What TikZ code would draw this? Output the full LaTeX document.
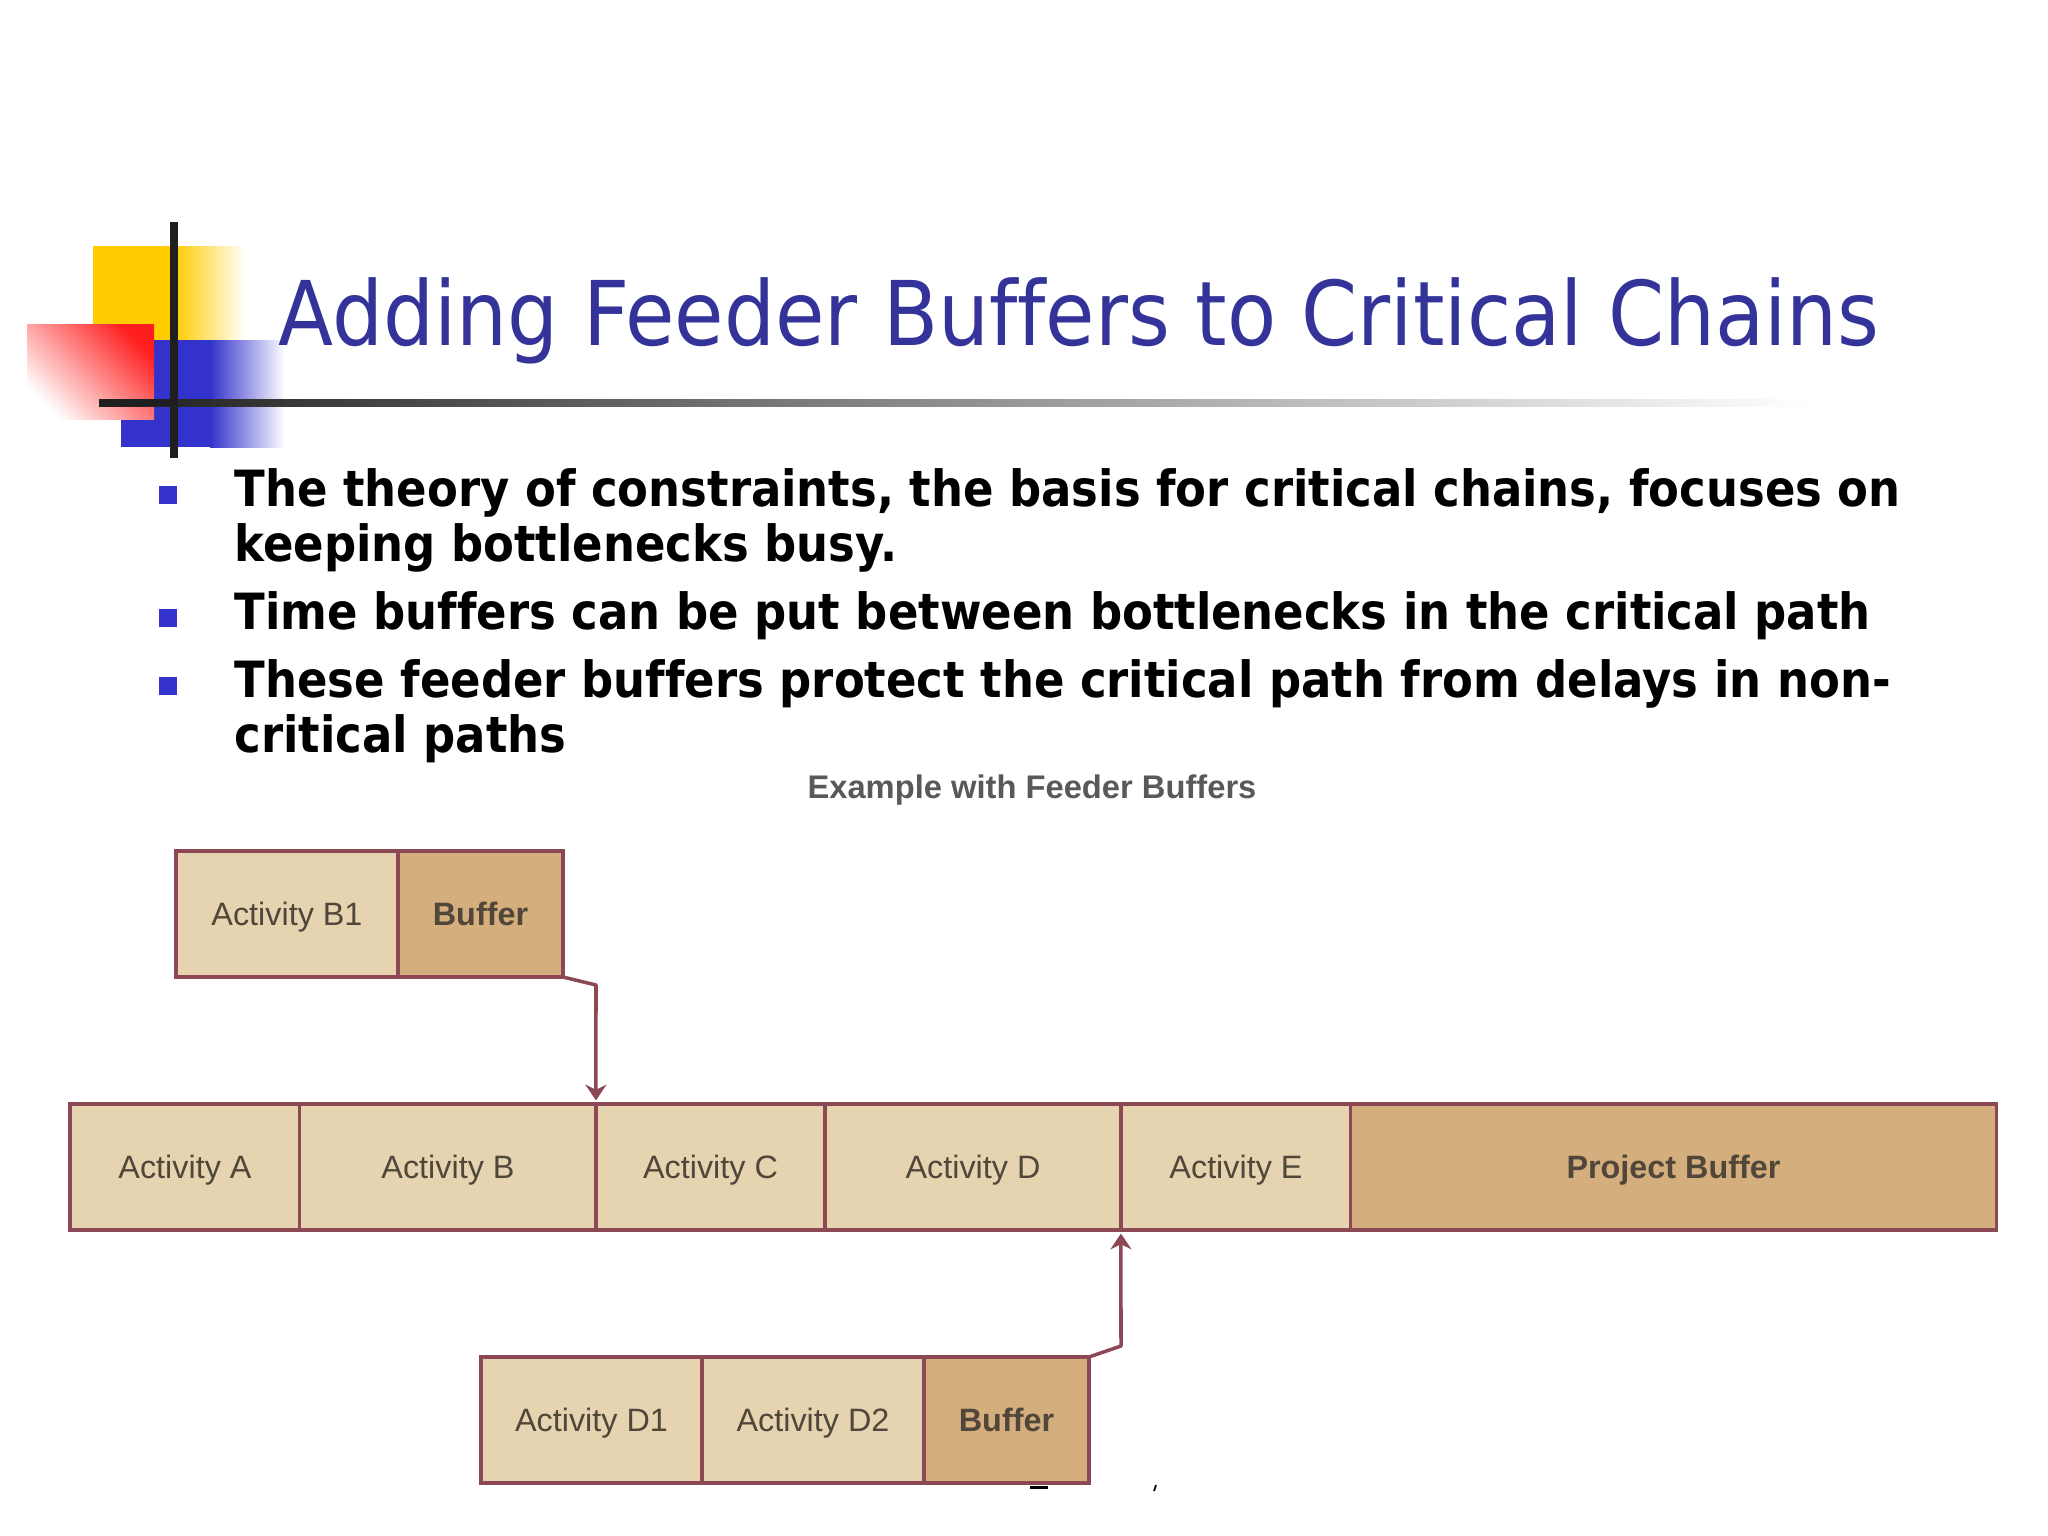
\documentclass[tikz,border=0pt]{standalone}
\usepackage{fontspec}
\usetikzlibrary{arrows.meta}
\setmainfont[Ligatures=NoCommon]{DejaVu Sans Condensed}
\newfontfamily\chartfont{Liberation Sans}
\definecolor{slideblue}{RGB}{51,51,153}
\definecolor{logoblue}{RGB}{51,51,204}
\definecolor{logoyellow}{RGB}{255,204,0}
\definecolor{logored}{RGB}{255,30,30}
\definecolor{barline}{RGB}{140,72,84}
\definecolor{taskfill}{RGB}{230,212,176}
\definecolor{bufferfill}{RGB}{212,174,125}
\definecolor{chartink}{RGB}{80,70,58}

\begin{document}
\begin{tikzpicture}[x=0.01cm,y=-0.01cm]

%
% Styles
%
\tikzstyle{task} = [rectangle,draw=barline,fill=taskfill,line width=0.9pt,outer sep=0pt,inner sep=0pt,
                    minimum height=1.26cm,text=chartink,text height=6.6pt,text depth=0pt,
                    font=\chartfont\fontsize{9.2}{12}\selectfont]
\tikzstyle{buffer} = [task,fill=bufferfill,font=\chartfont\bfseries\fontsize{9.2}{12}\selectfont]
\tikzstyle{feeder} = [draw=barline,line width=1pt,line join=round,shorten >=1pt,-{Stealth[length=4.5pt,width=6pt]}]
\tikzstyle{bullet} = [rectangle,fill=logoblue,inner sep=0pt,minimum size=0.18cm]
\tikzstyle{point} = [anchor=west,align=left,inner sep=0pt,font=\bfseries\fontsize{14.2}{15.6}\selectfont]

\useasboundingbox (0,0) rectangle (2048,1536);

% logo
\fill[logoyellow] (93,246) rectangle (175,340);
\shade[left color=logoyellow,right color=white] (175,246) rectangle (245,340);
\fill[logoblue] (121,340) rectangle (210,447);
\shade[left color=logoblue,right color=white] (210,340) rectangle (285,447);
\shade[top color=logored,bottom color=white,shading angle=-45] (27,324) rectangle (154,419);
\fill[black!88] (170,222) rectangle (178,458);
\shade[left color=black!88,middle color=black!35,right color=white] (99,399) rectangle (1810,406);
\fill[black!88] (99,399) rectangle (178,406);

% title
\node[anchor=base west,inner sep=0pt,text=slideblue,font=\fontsize{25.4}{30}\selectfont] (title) at (278,345)
  {Adding Feeder Buffers to Critical Chains};

% points
\node[bullet] (b1) at (168,495) {};
\node[bullet] (b2) at (168,618) {};
\node[bullet] (b3) at (168,686) {};
\node[point] (p1) at (234,520) {The theory of constraints, the basis for critical chains, focuses on\\keeping bottlenecks busy.};
\node[point] (p2) at (234,616) {Time buffers can be put between bottlenecks in the critical path};
\node[point] (p3) at (234,711) {These feeder buffers protect the critical path from delays in non-\\critical paths};

% chart
\node[text=black!65,font=\chartfont\bfseries\fontsize{9.3}{12}\selectfont] (head) at (1032,790) {Example with Feeder Buffers};

\node[task,minimum width=2.22cm]   (b1box) at (287,914)    {Activity B1};
\node[buffer,minimum width=1.65cm] (bufb)  at (480.5,914)  {Buffer};

\node[task,minimum width=2.30cm]   (acta)  at (185,1167)   {Activity A};
\node[task,minimum width=2.96cm]   (actb)  at (448,1167)   {Activity B};
\node[task,minimum width=2.29cm]   (actc)  at (710.5,1167) {Activity C};
\node[task,minimum width=2.96cm]   (actd)  at (973,1167)   {Activity D};
\node[task,minimum width=2.30cm]   (acte)  at (1236,1167)  {Activity E};
\node[buffer,minimum width=6.45cm] (proj)  at (1673.5,1167){Project Buffer};

\node[task,minimum width=2.21cm]   (d1box) at (591.5,1420) {Activity D1};
\node[task,minimum width=2.22cm]   (d2box) at (813,1420)   {Activity D2};
\node[buffer,minimum width=1.65cm] (bufd)  at (1006.5,1420){Buffer};

\coordinate (kinkb) at (596,985);
\coordinate (kinkd) at (1121,1346);
\path[feeder] (bufb.south east) -- (kinkb) -- (actc.north west);
\path[feeder] (bufd.north east) -- (kinkd) -- (acte.south west);

% scraps under the last box
\fill (1030,1486) rectangle (1048,1489);
\draw[line width=0.5pt] (1156,1485) -- (1154,1491);

\end{tikzpicture}
\end{document}
